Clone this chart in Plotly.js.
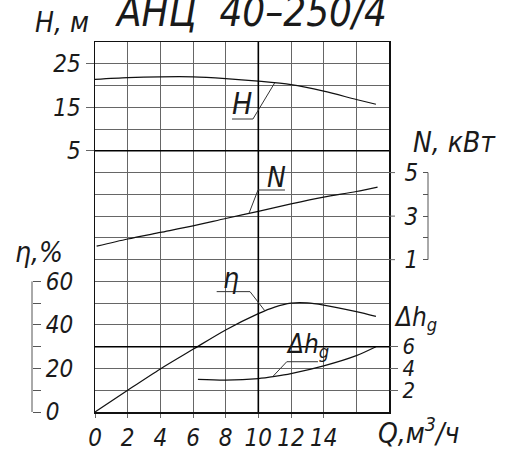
<!DOCTYPE html>
<html>
<head>
<meta charset="utf-8">
<script src="https://cdn.plot.ly/plotly-3.0.1.min.js"></script>
<style>
  html, body { margin: 0; padding: 0; background: #fff; }
  #chart { width: 507px; height: 452px; }
</style>
</head>
<body>
<div id="chart"></div>
<script>
// Flow rate Q, m³/h, and the pump curves read against it
const Q_H = [0, 2, 4, 6, 8, 10, 12, 14, 16, 17.2];
const H_m = [21.4, 21.8, 22.0, 22.0, 21.6, 21.0, 20.2, 18.7, 16.8, 15.7];

const Q_N = [0.1, 2, 4, 6, 8, 10, 12, 14, 16, 17.3];
const N_kW = [1.62, 1.95, 2.25, 2.55, 2.89, 3.22, 3.56, 3.87, 4.13, 4.33];

const Q_eta = [0, 2, 4, 6, 8, 10, 11, 12, 13, 14, 16, 17.2];
const eta_pct = [0, 10, 19.8, 28.8, 37.7, 45.2, 48.2, 50, 50.1, 49.1, 46.1, 43.9];

const Q_dh = [6.3, 8, 10, 11, 12, 14, 16, 17.2];
const dh_m = [3.0, 2.93, 3.07, 3.27, 3.53, 4.24, 5.18, 6.0];

// Tick values and labels
const qTicks = [0, 2, 4, 6, 8, 10, 12, 14];
const qTickText = ['0', '2', '4', '6', '8', '10', '12', '14'];
const qExtraGrid = [16, 18];
const hTicks = [5, 15, 25];
const nTicks = [1, 3, 5];
const nMinor = [2, 4];
const etaTicks = [0, 20, 40, 60];
const etaMinor = [10, 30, 50];
const dhTicks = [2, 4, 6];

// Page geometry helpers for free-standing labels (pixels -> paper fraction)
const W = 507, H = 452, ML = 20, MR = 20, MT = 42, MB = 40;
const PW = W - ML - MR, PH = H - MT - MB;
const px = x => (x - ML) / PW;
const py = y => (H - MB - y) / PH;

const FONT = 'DejaVu Sans Condensed, DejaVu Sans, sans-serif';
const ink = '#1a1a1a';
const gridCol = '#666';
const f = (size) => ({ family: FONT, size: size, color: ink, style: 'italic' });

const curve = (x, y, yaxis) => ({
  x: x, y: y, xaxis: 'x', yaxis: yaxis, type: 'scatter', mode: 'lines',
  line: { color: '#111', width: 1.2, shape: 'spline', smoothing: 0.8 },
  hoverinfo: 'skip', showlegend: false
});

const traces = [
  curve(Q_H, H_m, 'y'),
  curve(Q_N, N_kW, 'y3'),
  curve(Q_eta, eta_pct, 'y4'),
  curve(Q_dh, dh_m, 'y5')
];

const seg = (xref, yref, x0, y0, x1, y1, color, width) => ({
  type: 'line', xref: xref, yref: yref, x0: x0, y0: y0, x1: x1, y1: y1,
  line: { color: color || '#333', width: width || 1 }
});

const shapes = [
  // heavier reference lines: Q = 10, H = 5 m, Δh = 6 m
  seg('x', 'paper', 10, 0, 10, 1, '#000', 1.6),
  seg('x', 'y', 0, 5, 18, 5, '#000', 1.6),
  seg('x', 'y5', 0, 6, 18, 6, '#000', 1.6),
  // N scale bracket and its marks on the frame
  seg('paper', 'y3', px(428), 1, px(428), 5, '#555', 1),
  seg('paper', 'y3', px(389), 1, px(395), 1, gridCol, 1),
  seg('paper', 'y3', px(389), 3, px(395), 3, gridCol, 1),
  seg('paper', 'y3', px(389), 5, px(395), 5, gridCol, 1),
  // eta scale bracket
  seg('paper', 'y4', px(32), 0, px(32), 60, '#555', 1),
  // H label: underline + leader to the head curve
  seg('x', 'y', 8.39, 12.31, 9.67, 12.31),
  seg('x', 'y', 9.67, 12.31, 11.0, 20.6),
  // N label
  seg('x', 'y3', 9.98, 4.2, 11.63, 4.2),
  seg('x', 'y3', 9.98, 4.2, 9.43, 3.13),
  // eta label
  seg('x', 'y4', 7.45, 55.3, 9.49, 55.3),
  seg('x', 'y4', 9.49, 55.3, 10.41, 46.4),
  // NPSH label
  seg('x', 'y5', 11.74, 4.62, 13.65, 4.62),
  seg('x', 'y5', 11.74, 4.62, 10.88, 3.25)
];

const ann = (text, x, y, size) => ({
  text: text, xref: 'paper', yref: 'paper', x: px(x), y: py(y),
  xanchor: 'center', yanchor: 'middle', showarrow: false, font: f(size)
});

const annotations = [
  ann('АНЦ  40–250/4', 251, 12, 40),
  ann('H, м', 62, 22, 28),
  ann('N, кВт', 454, 142, 28),
  ann('η,%', 39, 252, 28),
  ann('Δh<sub>g</sub>', 415, 318, 26),
  ann('Q,м<sup>3</sup>/ч', 418, 432, 28),
  ann('H', 242, 104, 30),
  ann('N', 276, 177, 28),
  ann('η', 231, 278, 28),
  ann('Δh<sub>g</sub>', 307, 345, 26)
];

const layout = {
  width: W, height: H,
  margin: { l: ML, r: MR, t: MT, b: MB, pad: 0 },
  paper_bgcolor: '#fff', plot_bgcolor: '#fff',
  showlegend: false,
  xaxis: {
    domain: [px(95), px(389)], range: [0, 18], anchor: 'y',
    tickmode: 'array', tickvals: qTicks, ticktext: qTickText,
    ticks: 'outside', ticklen: 4, tickcolor: gridCol, tickfont: f(24),
    showgrid: true, gridcolor: gridCol, gridwidth: 1,
    minor: { tickmode: 'array', tickvals: qExtraGrid, showgrid: true, gridcolor: gridCol, gridwidth: 1, ticks: '' },
    zeroline: false, showline: true, mirror: true, linecolor: '#111', linewidth: 1.5
  },
  // head scale; its grid also draws every row of the chart grid
  yaxis: {
    domain: [0, 1], range: [-55, 30], anchor: 'x', side: 'left',
    tickmode: 'array', tickvals: hTicks, ticks: 'outside', ticklen: 8, tickcolor: gridCol,
    tickfont: f(24), showgrid: true, gridcolor: gridCol, gridwidth: 1,
    minor: { tickmode: 'linear', tick0: 0, dtick: 5, showgrid: true, gridcolor: gridCol, gridwidth: 1, ticks: '' },
    zeroline: false, showline: true, mirror: true, linecolor: '#111', linewidth: 1.5
  },
  yaxis3: {
    overlaying: 'y', anchor: 'free', position: px(428), side: 'left', range: [-6, 11],
    tickmode: 'array', tickvals: nTicks, ticks: 'outside', ticklen: 5, tickcolor: '#555',
    minor: { tickmode: 'array', tickvals: nMinor, ticks: 'outside', ticklen: 5, tickcolor: '#555', showgrid: false },
    tickfont: f(24), showgrid: false, zeroline: false, showline: false
  },
  yaxis4: {
    overlaying: 'y', anchor: 'free', position: px(32), side: 'right', range: [0, 170],
    tickmode: 'array', tickvals: etaTicks, ticks: 'outside', ticklen: 8, tickcolor: '#555',
    minor: { tickmode: 'array', tickvals: etaMinor, ticks: 'outside', ticklen: 8, tickcolor: '#555', showgrid: false },
    tickfont: f(24), showgrid: false, zeroline: false, showline: false
  },
  yaxis5: {
    overlaying: 'y', side: 'right', anchor: 'x', range: [0, 34],
    tickmode: 'array', tickvals: dhTicks, ticks: 'outside', ticklen: 8, tickcolor: gridCol,
    tickfont: f(22), showgrid: false, zeroline: false
  },
  shapes: shapes,
  annotations: annotations
};

Plotly.newPlot('chart', traces, layout, { displayModeBar: false, staticPlot: true });
</script>
</body>
</html>
